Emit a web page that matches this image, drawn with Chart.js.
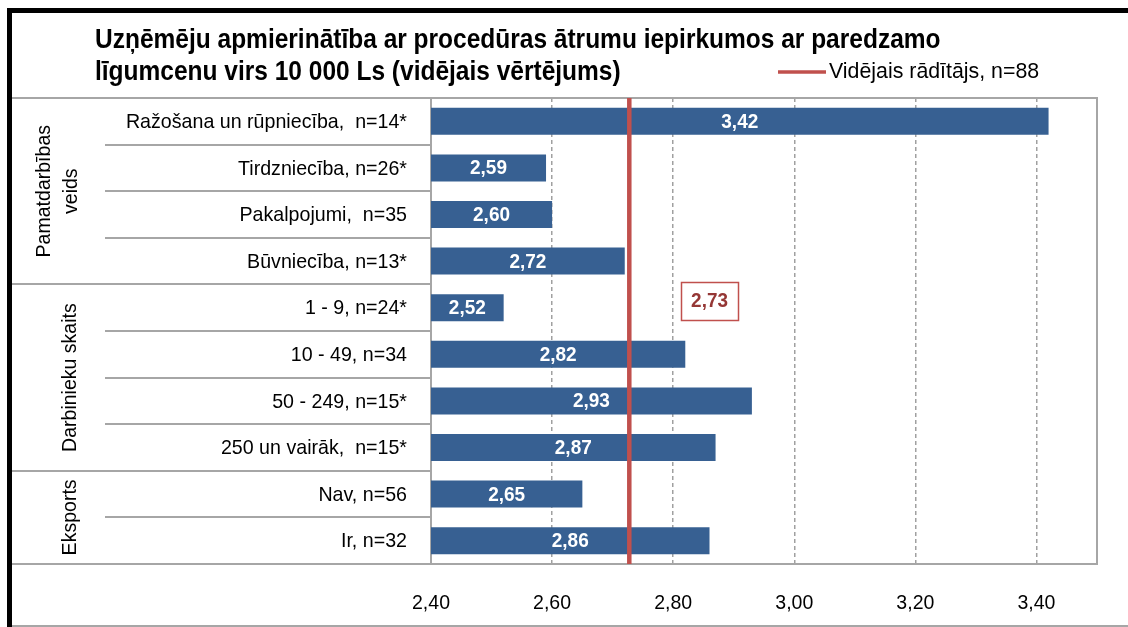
<!DOCTYPE html>
<html><head><meta charset="utf-8">
<script src="https://cdn.jsdelivr.net/npm/chart.js@4/dist/chart.umd.min.js"></script>
<style>html,body{margin:0;padding:0;background:#fff;}canvas{display:block;}</style>
</head><body>
<canvas id="c" width="1128" height="627"></canvas>
<script>
const titleLines = ["Uzņēmēju apmierinātība ar procedūras ātrumu iepirkumos ar paredzamo", "līgumcenu virs 10 000 Ls (vidējais vērtējums)"];
const categories = ["Ražošana un rūpniecība,  n=14*", "Tirdzniecība, n=26*", "Pakalpojumi,  n=35", "Būvniecība, n=13*", "1 - 9, n=24*", "10 - 49, n=34", "50 - 249, n=15*", "250 un vairāk,  n=15*", "Nav, n=56", "Ir, n=32"];
const values = [3.42, 2.59, 2.60, 2.72, 2.52, 2.82, 2.93, 2.87, 2.65, 2.86];
const groupNames = [["Pamatdarbības", "veids"], ["Darbinieku skaits"], ["Eksports"]];
const groupSizes = [4, 4, 2];
const meanLabel = "Vidējais rādītājs, n=88";
const meanValue = 2.73;
const xTickValues = [2.4, 2.6, 2.8, 3.0, 3.2, 3.4];
const xMin = 2.4, xMax = 3.5;

const FONT = "'Liberation Sans Narrow','Arial Narrow','Liberation Sans',Arial,sans-serif";
const BAR = '#376092', RED = '#C0504D', LINE = '#a6a6a6';
const fmt = v => Number(v).toFixed(2).replace('.', ',');

function txt(ctx, s, x, y, o = {}) {
  const { size = 21, bold = false, align = 'center', sx = 0.93, color = '#000', rot = 0 } = o;
  ctx.save();
  ctx.translate(x, y);
  if (rot) ctx.rotate(rot);
  ctx.scale(sx, 1);
  ctx.font = `${bold ? 'bold ' : ''}${size}px ${FONT}`;
  ctx.fillStyle = color; ctx.textAlign = align; ctx.textBaseline = 'middle';
  ctx.fillText(s, 0, 0);
  ctx.restore();
}

const decor = {
  id: 'decor',
  afterDraw(chart) {
    const { ctx, chartArea: ca, scales: { x, y } } = chart;
    const W = chart.width;
    ctx.save();
    // title
    titleLines.forEach((t, i) => txt(ctx, t, 95, 40 + i * 32, { size: 28, bold: true, align: 'left', sx: 0.875 }));
    // table lines
    ctx.strokeStyle = LINE; ctx.lineWidth = 2;
    const rowEdge = i => i === 0 ? ca.top : (i === categories.length ? ca.bottom : (y.getPixelForValue(i - 1) + y.getPixelForValue(i)) / 2);
    const groupStarts = [0]; groupSizes.forEach((s, k) => groupStarts.push(groupStarts[k] + s));
    for (let i = 1; i < categories.length; i++) {
      const full = groupStarts.includes(i);
      const yy = Math.round(rowEdge(i));
      ctx.beginPath(); ctx.moveTo(full ? 10 : 105, yy); ctx.lineTo(ca.left, yy); ctx.stroke();
    }
    ctx.beginPath();
    ctx.moveTo(10, ca.top); ctx.lineTo(ca.right, ca.top); ctx.lineTo(ca.right, ca.bottom); ctx.lineTo(10, ca.bottom);
    ctx.stroke();
    ctx.beginPath(); ctx.moveTo(10, 626); ctx.lineTo(W, 626); ctx.stroke();
    // category labels
    categories.forEach((c, i) => txt(ctx, c, 407, y.getPixelForValue(i) + 1, { align: 'right', sx: 0.935 }));
    // x tick labels
    xTickValues.forEach(v => txt(ctx, fmt(v), x.getPixelForValue(v), 603, { sx: 0.93 }));
    // group labels
    groupNames.forEach((lines, k) => {
      const cy = (rowEdge(groupStarts[k]) + rowEdge(groupStarts[k + 1])) / 2;
      lines.forEach((t, j) => {
        const cx = lines.length === 1 ? 70 : 44 + j * 27;
        txt(ctx, t, cx, cy, { rot: -Math.PI / 2, sx: 0.93 });
      });
    });
    // mean line
    const mx = x.getPixelForValue(meanValue) - 1.5;
    ctx.strokeStyle = RED; ctx.lineWidth = 4.5;
    ctx.beginPath(); ctx.moveTo(mx, ca.top); ctx.lineTo(mx, ca.bottom); ctx.stroke();
    // value labels (centred in each bar)
    values.forEach((v, i) => {
      const cx = (x.getPixelForValue(xMin) + x.getPixelForValue(v)) / 2;
      txt(ctx, fmt(v), cx, y.getPixelForValue(i) + 1, { size: 20, bold: true, color: '#fff', sx: 0.95 });
    });
    // mean annotation box
    const ax = x.getPixelForValue(meanValue + 0.13), ay = y.getPixelForValue(4) - 7;
    ctx.strokeStyle = RED; ctx.lineWidth = 1.5;
    ctx.strokeRect(Math.round(ax - 28.5) + 0.5, Math.round(ay - 19) + 0.5, 57, 38);
    txt(ctx, fmt(meanValue), ax, ay + 1, { size: 21, bold: true, color: '#953735', sx: 0.9 });
    // legend
    ctx.strokeStyle = RED; ctx.lineWidth = 3.5;
    ctx.beginPath(); ctx.moveTo(778, 72); ctx.lineTo(826, 72); ctx.stroke();
    txt(ctx, meanLabel, 829, 72, { size: 22, align: 'left', sx: 0.97 });
    // black frame
    ctx.strokeStyle = '#000'; ctx.lineWidth = 5;
    ctx.beginPath(); ctx.moveTo(9.5, 640); ctx.lineTo(9.5, 10.5); ctx.lineTo(W + 5, 10.5); ctx.stroke();
    ctx.restore();
  }
};

new Chart(document.getElementById('c'), {
  type: 'bar',
  data: { labels: categories, datasets: [{ data: values, backgroundColor: BAR, barPercentage: 0.58, categoryPercentage: 1 }] },
  options: {
    indexAxis: 'y', responsive: false, animation: false, devicePixelRatio: 1,
    layout: { padding: { left: 0, right: 31, top: 98, bottom: 0 } },
    plugins: { legend: { display: false }, tooltip: { enabled: false }, title: { display: false } },
    scales: {
      x: {
        type: 'linear', min: xMin, max: xMax,
        afterBuildTicks: s => { s.ticks = xTickValues.map(v => ({ value: v })); },
        afterFit: s => { s.height = 63; },
        grid: { color: '#a0a0a0', lineWidth: 1.5, drawTicks: false },
        border: { display: false, dash: [4, 3] },
        ticks: { display: false }
      },
      y: {
        afterFit: s => { s.width = 431; },
        grid: { display: false },
        border: { color: LINE, width: 2 },
        ticks: { display: false }
      }
    }
  },
  plugins: [decor]
});
</script>
</body></html>
